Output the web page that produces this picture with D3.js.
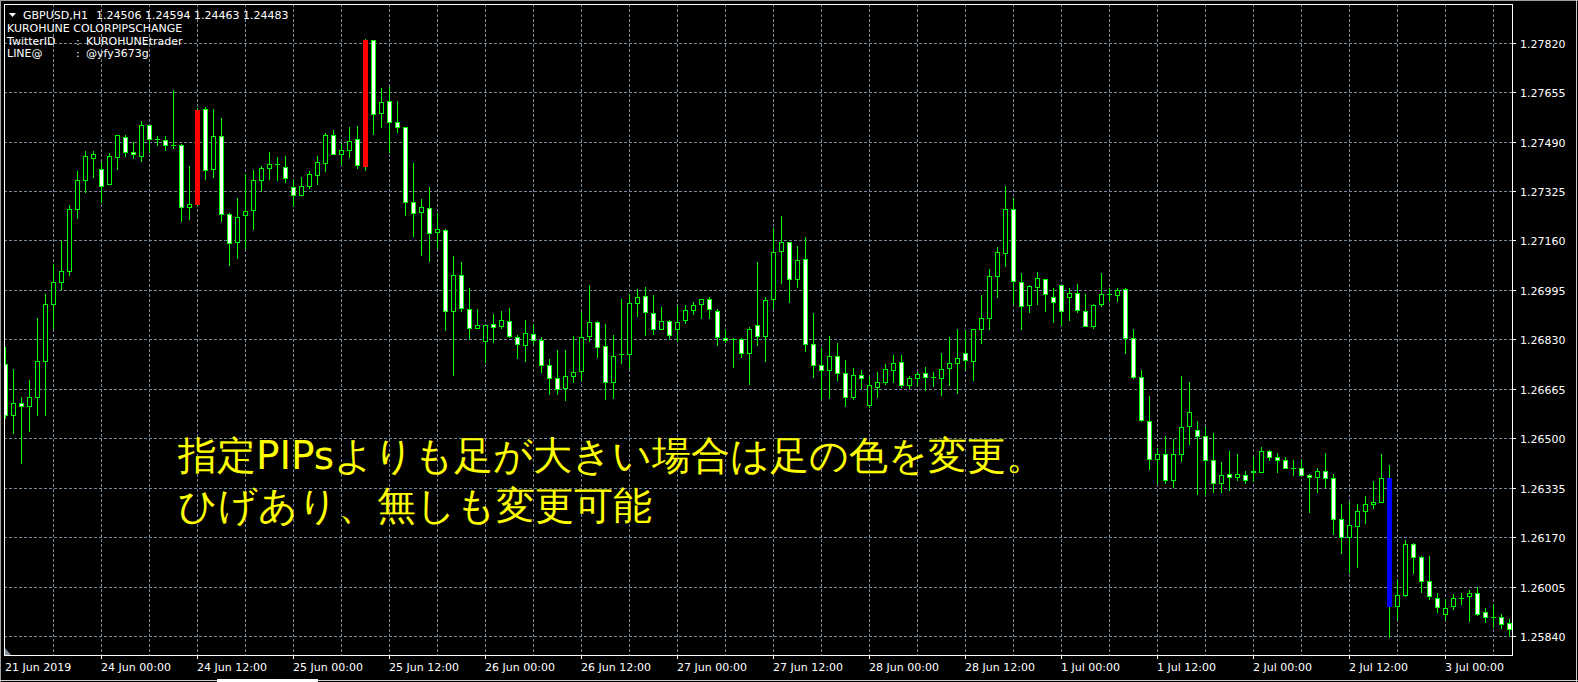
<!DOCTYPE html>
<html><head><meta charset="utf-8">
<script src="https://cdn.jsdelivr.net/npm/d3@7"></script>
<style>
html,body{margin:0;padding:0;background:#000;overflow:hidden;}
svg{display:block;}
text{font-family:"DejaVu Sans",sans-serif;}
</style></head>
<body><svg id="c" width="1578" height="682"></svg>
<script>
// ---- data (GBPUSD H1, 21 Jun 2019 12:00 -> 3 Jul 2019 08:00) ----
const open = [1.26749,1.26579,1.26617,1.26609,1.26636,1.26759,1.26949,1.27022,1.27059,1.27266,1.27362,1.27436,1.27399,1.27349,1.27439,1.27506,1.27456,1.27442,1.27546,1.27498,1.27494,1.27479,1.27479,1.27271,1.27281,1.27599,1.27399,1.27509,1.27249,1.27156,1.27246,1.27262,1.27362,1.27402,1.27416,1.27406,1.27339,1.27312,1.27342,1.27379,1.27419,1.27512,1.27449,1.27462,1.27499,1.27410,1.27829,1.27586,1.27626,1.27556,1.27539,1.27289,1.27254,1.27269,1.27188,1.27196,1.26926,1.27046,1.26932,1.26869,1.26826,1.26882,1.26876,1.26892,1.26839,1.26812,1.26849,1.26829,1.26746,1.26702,1.26668,1.26709,1.26726,1.26842,1.26889,1.26809,1.26686,1.26781,1.26781,1.26952,1.26976,1.26919,1.26866,1.26892,1.26866,1.26896,1.26929,1.26949,1.26966,1.26926,1.26836,1.26831,1.26832,1.26786,1.26879,1.26842,1.26964,1.27126,1.27156,1.27032,1.27099,1.26816,1.26746,1.26729,1.26776,1.26719,1.26636,1.26712,1.26612,1.26672,1.26689,1.26729,1.26756,1.26676,1.26702,1.26719,1.26704,1.26702,1.26736,1.26752,1.26786,1.26759,1.26866,1.26902,1.27042,1.27119,1.27266,1.27022,1.26946,1.27006,1.27032,1.26972,1.27012,1.26972,1.26986,1.26926,1.26876,1.26949,1.26980,1.26979,1.26999,1.26836,1.26706,1.26559,1.26432,1.26446,1.26359,1.26446,1.26542,1.26529,1.26506,1.26429,1.26349,1.26382,1.26369,1.26376,1.26392,1.26386,1.26459,1.26439,1.26429,1.26399,1.26399,1.26376,1.26372,1.26392,1.26366,1.26232,1.26169,1.26206,1.26256,1.26279,1.26286,1.26366,1.25939,1.25976,1.26146,1.26102,1.26022,1.25966,1.25912,1.25939,1.25968,1.25972,1.25982,1.25919,1.25902,1.25902,1.25882];
const high = [1.26804,1.26730,1.26636,1.26693,1.26900,1.26980,1.27082,1.27157,1.27279,1.27393,1.27457,1.27460,1.27422,1.27453,1.27512,1.27513,1.27488,1.27559,1.27546,1.27509,1.27509,1.27663,1.27482,1.27407,1.27602,1.27607,1.27600,1.27569,1.27253,1.27302,1.27382,1.27396,1.27409,1.27456,1.27439,1.27442,1.27362,1.27372,1.27392,1.27442,1.27520,1.27527,1.27486,1.27537,1.27543,1.27833,1.27829,1.27669,1.27671,1.27627,1.27539,1.27420,1.27300,1.27340,1.27250,1.27199,1.27107,1.27087,1.27000,1.26930,1.26879,1.26913,1.26923,1.26933,1.26846,1.26893,1.26882,1.26839,1.26766,1.26796,1.26796,1.26842,1.26922,1.27013,1.26892,1.26882,1.26846,1.26966,1.26982,1.26999,1.27006,1.26979,1.26939,1.26896,1.26942,1.26946,1.26956,1.26966,1.26972,1.26932,1.26866,1.26836,1.26836,1.26872,1.27087,1.26972,1.27202,1.27243,1.27156,1.27142,1.27170,1.26919,1.26802,1.26842,1.26819,1.26762,1.26736,1.26729,1.26706,1.26722,1.26749,1.26779,1.26779,1.26709,1.26722,1.26739,1.26722,1.26786,1.26839,1.26866,1.26862,1.26866,1.26979,1.27066,1.27139,1.27343,1.27302,1.27052,1.27012,1.27056,1.27032,1.27002,1.27012,1.27002,1.27016,1.26982,1.26949,1.27052,1.27001,1.27002,1.27002,1.26866,1.26727,1.26642,1.26469,1.26509,1.26496,1.26709,1.26689,1.26559,1.26536,1.26519,1.26422,1.26459,1.26446,1.26389,1.26436,1.26472,1.26462,1.26452,1.26439,1.26426,1.26426,1.26379,1.26399,1.26452,1.26382,1.26282,1.26286,1.26282,1.26306,1.26356,1.26446,1.26412,1.26026,1.26162,1.26149,1.26106,1.26106,1.25982,1.25962,1.25979,1.25982,1.25992,1.26002,1.25932,1.25946,1.25912,1.25896];
const low = [1.26566,1.26518,1.26418,1.26524,1.26579,1.26579,1.26868,1.26998,1.27044,1.27234,1.27322,1.27371,1.27287,1.27349,1.27398,1.27441,1.27434,1.27424,1.27454,1.27479,1.27463,1.27467,1.27224,1.27230,1.27277,1.27364,1.27371,1.27224,1.27078,1.27100,1.27136,1.27198,1.27329,1.27364,1.27361,1.27356,1.27276,1.27312,1.27336,1.27349,1.27392,1.27449,1.27416,1.27438,1.27402,1.27396,1.27516,1.27538,1.27454,1.27521,1.27244,1.27174,1.27111,1.27091,1.27134,1.26860,1.26711,1.26926,1.26834,1.26869,1.26754,1.26821,1.26869,1.26838,1.26768,1.26758,1.26816,1.26721,1.26649,1.26648,1.26627,1.26689,1.26696,1.26826,1.26771,1.26631,1.26634,1.26751,1.26734,1.26909,1.26844,1.26849,1.26866,1.26836,1.26826,1.26886,1.26916,1.26902,1.26902,1.26812,1.26822,1.26738,1.26771,1.26682,1.26812,1.26758,1.26934,1.27018,1.26954,1.27006,1.26791,1.26704,1.26634,1.26634,1.26694,1.26608,1.26632,1.26669,1.26603,1.26636,1.26681,1.26688,1.26672,1.26666,1.26676,1.26662,1.26674,1.26644,1.26678,1.26651,1.26731,1.26694,1.26819,1.26864,1.26971,1.27074,1.26948,1.26864,1.26921,1.26948,1.26924,1.26888,1.26879,1.26894,1.26921,1.26876,1.26869,1.26942,1.26959,1.26959,1.26784,1.26702,1.26556,1.26396,1.26349,1.26349,1.26338,1.26424,1.26482,1.26314,1.26314,1.26319,1.26319,1.26326,1.26359,1.26352,1.26356,1.26386,1.26426,1.26386,1.26399,1.26376,1.26376,1.26254,1.26319,1.26336,1.26182,1.26118,1.26054,1.26071,1.26216,1.26266,1.26286,1.25836,1.25896,1.25972,1.26049,1.25986,1.25962,1.25919,1.25896,1.25929,1.25946,1.25889,1.25909,1.25886,1.25869,1.25866,1.25842];
const close = [1.26579,1.26616,1.26609,1.26636,1.26759,1.26949,1.27022,1.27059,1.27266,1.27362,1.27442,1.27447,1.27342,1.27442,1.27512,1.27456,1.27447,1.27546,1.27499,1.27498,1.27479,1.27479,1.27271,1.27282,1.27597,1.27396,1.27509,1.27249,1.27152,1.27239,1.27259,1.27362,1.27402,1.27416,1.27416,1.27369,1.27312,1.27342,1.27382,1.27422,1.27512,1.27449,1.27462,1.27492,1.27412,1.27830,1.27582,1.27622,1.27556,1.27539,1.27289,1.27251,1.27272,1.27186,1.27199,1.26926,1.27046,1.26936,1.26869,1.26879,1.26879,1.26872,1.26896,1.26842,1.26816,1.26852,1.26829,1.26746,1.26702,1.26664,1.26709,1.26722,1.26839,1.26889,1.26806,1.26689,1.26776,1.26781,1.26952,1.26972,1.26922,1.26866,1.26892,1.26846,1.26889,1.26929,1.26946,1.26966,1.26932,1.26839,1.26829,1.26831,1.26786,1.26866,1.26842,1.26962,1.27122,1.27156,1.27032,1.27096,1.26816,1.26746,1.26729,1.26776,1.26719,1.26638,1.26712,1.26702,1.26676,1.26689,1.26732,1.26752,1.26676,1.26702,1.26716,1.26706,1.26704,1.26732,1.26752,1.26769,1.26762,1.26866,1.26902,1.27042,1.27122,1.27266,1.27026,1.26942,1.27009,1.27036,1.26982,1.26956,1.26926,1.26986,1.26929,1.26876,1.26946,1.26982,1.26980,1.26996,1.26836,1.26706,1.26562,1.26432,1.26446,1.26359,1.26446,1.26539,1.26586,1.26506,1.26426,1.26349,1.26376,1.26369,1.26379,1.26362,1.26386,1.26459,1.26436,1.26426,1.26399,1.26399,1.26376,1.26369,1.26392,1.26366,1.26232,1.26172,1.26209,1.26256,1.26279,1.26286,1.26366,1.25939,1.25976,1.26146,1.26102,1.26022,1.25972,1.25936,1.25932,1.25966,1.25968,1.25982,1.25912,1.25902,1.25902,1.25879,1.25862];

const priceTicks = [1.27820,1.27655,1.27490,1.27325,1.27160,1.26995,1.26830,1.26665,1.26500,1.26335,1.26170,1.26005,1.25840];
const timeLabels = ["21 Jun 2019","24 Jun 00:00","24 Jun 12:00","25 Jun 00:00","25 Jun 12:00","26 Jun 00:00","26 Jun 12:00","27 Jun 00:00","27 Jun 12:00","28 Jun 00:00","28 Jun 12:00","1 Jul 00:00","1 Jul 12:00","2 Jul 00:00","2 Jul 12:00","3 Jul 00:00"];
const timeLabelBars = [0,12,24,36,48,60,72,84,96,108,120,132,144,156,168,180];
const headerLines = [
  ["GBPUSD,H1","1.24506 1.24594 1.24463 1.24483"],
  ["KUROHUNE COLORPIPSCHANGE",""],
  ["TwitterID",":","KUROHUNEtrader"],
  ["LINE@",":","@yfy3673g"]
];
const noteLines = ["指定PIPsよりも足が大きい場合は足の色を変更。","ひげあり、無しも変更可能"];
const pipThreshold = 30;   // body size (pips) above which the candle is recoloured
const pip = 0.0001;

// ---- layout ----
const W = 1578, H = 682;
const L = 4, T = 4, R = 1512, B = 655;
const svg = d3.select("#c");
svg.append("rect").attr("width",W).attr("height",H).attr("fill","#000");

const n = open.length;
const x = d3.scaleLinear().domain([0, n-1]).range([5, 5 + 8*(n-1)]);
const y = d3.scaleLinear().domain([1.25840, 1.27820]).range([636, 42.7]);
const gridCol = "#778899";

// window edges
svg.append("line").attr("x1",0).attr("x2",W).attr("y1",0.5).attr("y2",0.5).attr("stroke","#a0a0a0");
svg.append("line").attr("x1",0.5).attr("x2",0.5).attr("y1",0).attr("y2",H).attr("stroke","#a0a0a0");
svg.append("line").attr("x1",W-1.5).attr("x2",W-1.5).attr("y1",0).attr("y2",H).attr("stroke","#c8c8c8");
svg.append("line").attr("x1",0).attr("x2",W).attr("y1",680.5).attr("y2",680.5).attr("stroke","#d4d0c8");
svg.append("rect").attr("x",217).attr("y",679).attr("width",101).attr("height",3).attr("fill","#ffffff");

// grid
const g = svg.append("g").attr("shape-rendering","crispEdges");
g.selectAll("line.hg").data(priceTicks).join("line")
  .attr("x1",L).attr("x2",R).attr("y1",d=>Math.round(y(d))+0.5).attr("y2",d=>Math.round(y(d))+0.5)
  .attr("stroke",gridCol).attr("stroke-dasharray","3,2");
const vIdx = d3.range(6, n, 6);
g.selectAll("line.vg").data(vIdx).join("line")
  .attr("x1",d=>x(d)+0.5).attr("x2",d=>x(d)+0.5).attr("y1",T).attr("y2",B)
  .attr("stroke",gridCol).attr("stroke-dasharray","3,2");

// candles
svg.append("clipPath").attr("id","clip").append("rect").attr("x",L+1).attr("y",T+1).attr("width",R-L-1).attr("height",B-T-1);
const cg = svg.append("g").attr("clip-path","url(#clip)").attr("shape-rendering","crispEdges");
const lime = "#00ff00";
const bars = d3.range(n).map(i=>({i,o:open[i],h:high[i],l:low[i],c:close[i]}));
const sel = cg.selectAll("g.bar").data(bars).join("g");
sel.append("rect")
  .attr("x",d=>x(d.i)).attr("width",1)
  .attr("y",d=>Math.round(y(d.h))).attr("height",d=>Math.round(y(d.l))-Math.round(y(d.h))+1)
  .attr("fill",lime);
sel.each(function(d){
  const s = d3.select(this);
  const px = x(d.i);
  const top = Math.round(y(Math.max(d.o,d.c)));
  const bot = Math.round(y(Math.min(d.o,d.c)));
  const size = Math.abs(d.c-d.o)/pip;
  if (size >= pipThreshold) {
    s.append("rect").attr("x",px-2).attr("width",5).attr("y",top).attr("height",bot-top+1)
      .attr("fill", d.c>d.o ? "#ff0000" : "#0000ff");
    return;
  }
  s.append("rect").attr("x",px-2).attr("width",5).attr("y",top).attr("height",bot-top+1).attr("fill",lime);
  if (bot-top >= 2) {
    s.append("rect").attr("x",px-1).attr("width",3).attr("y",top+1).attr("height",bot-top-1)
      .attr("fill", d.c>d.o ? "#000000" : "#ffffff");
  }
});

// frame
svg.append("rect").attr("x",L+0.5).attr("y",T+0.5).attr("width",R-L).attr("height",B-T)
  .attr("fill","none").attr("stroke","#ffffff").attr("shape-rendering","crispEdges");
svg.append("path").attr("d",`M5,648 L5,655 L11,655 Z`).attr("fill","#8090a0");

// right axis
const ra = svg.append("g");
ra.selectAll("line").data(priceTicks).join("line")
  .attr("x1",R).attr("x2",R+4).attr("y1",d=>Math.round(y(d))+0.5).attr("y2",d=>Math.round(y(d))+0.5)
  .attr("stroke","#ffffff").attr("shape-rendering","crispEdges");
ra.selectAll("text").data(priceTicks).join("text")
  .attr("x",1520).attr("y",d=>Math.round(y(d))+4.5)
  .attr("fill","#ffffff").attr("font-size","11px").text(d=>d.toFixed(5));

// bottom axis
const ba = svg.append("g");
ba.selectAll("line").data(timeLabelBars.slice(1)).join("line")
  .attr("x1",d=>x(d)+0.5).attr("x2",d=>x(d)+0.5).attr("y1",B).attr("y2",B+4)
  .attr("stroke","#ffffff").attr("shape-rendering","crispEdges");
ba.selectAll("text").data(timeLabels).join("text")
  .attr("x",(d,k)=>k===0 ? 5 : x(timeLabelBars[k])).attr("y",670.5)
  .attr("fill","#ffffff").attr("font-size","11px").text(d=>d);

// header text
svg.append("path").attr("d","M9,13 L16,13 L12.5,17 Z").attr("fill","#ffffff");
const hb = [19,32,44.7,57.3];
const ht = svg.append("g").attr("fill","#ffffff").attr("font-size","11px");
ht.append("text").attr("x",23).attr("y",hb[0]).text(headerLines[0][0]);
ht.append("text").attr("x",96).attr("y",hb[0]).text(headerLines[0][1]);
ht.append("text").attr("x",7).attr("y",hb[1]).text(headerLines[1][0]);
[2,3].forEach(k=>{
  ht.append("text").attr("x",7).attr("y",hb[k]).text(headerLines[k][0]);
  ht.append("text").attr("x",76).attr("y",hb[k]).text(headerLines[k][1]);
  ht.append("text").attr("x",86).attr("y",hb[k]).text(headerLines[k][2]);
});

// note
const nt = svg.append("g").attr("fill","#ffff00")
  .style("font-family",'"Noto Sans CJK JP","Noto Sans CJK SC",sans-serif').attr("font-size","39px");
nt.append("text").attr("x",178).attr("y",469).text(noteLines[0]);
nt.append("text").attr("x",178).attr("y",519).text(noteLines[1]);
</script></body></html>
